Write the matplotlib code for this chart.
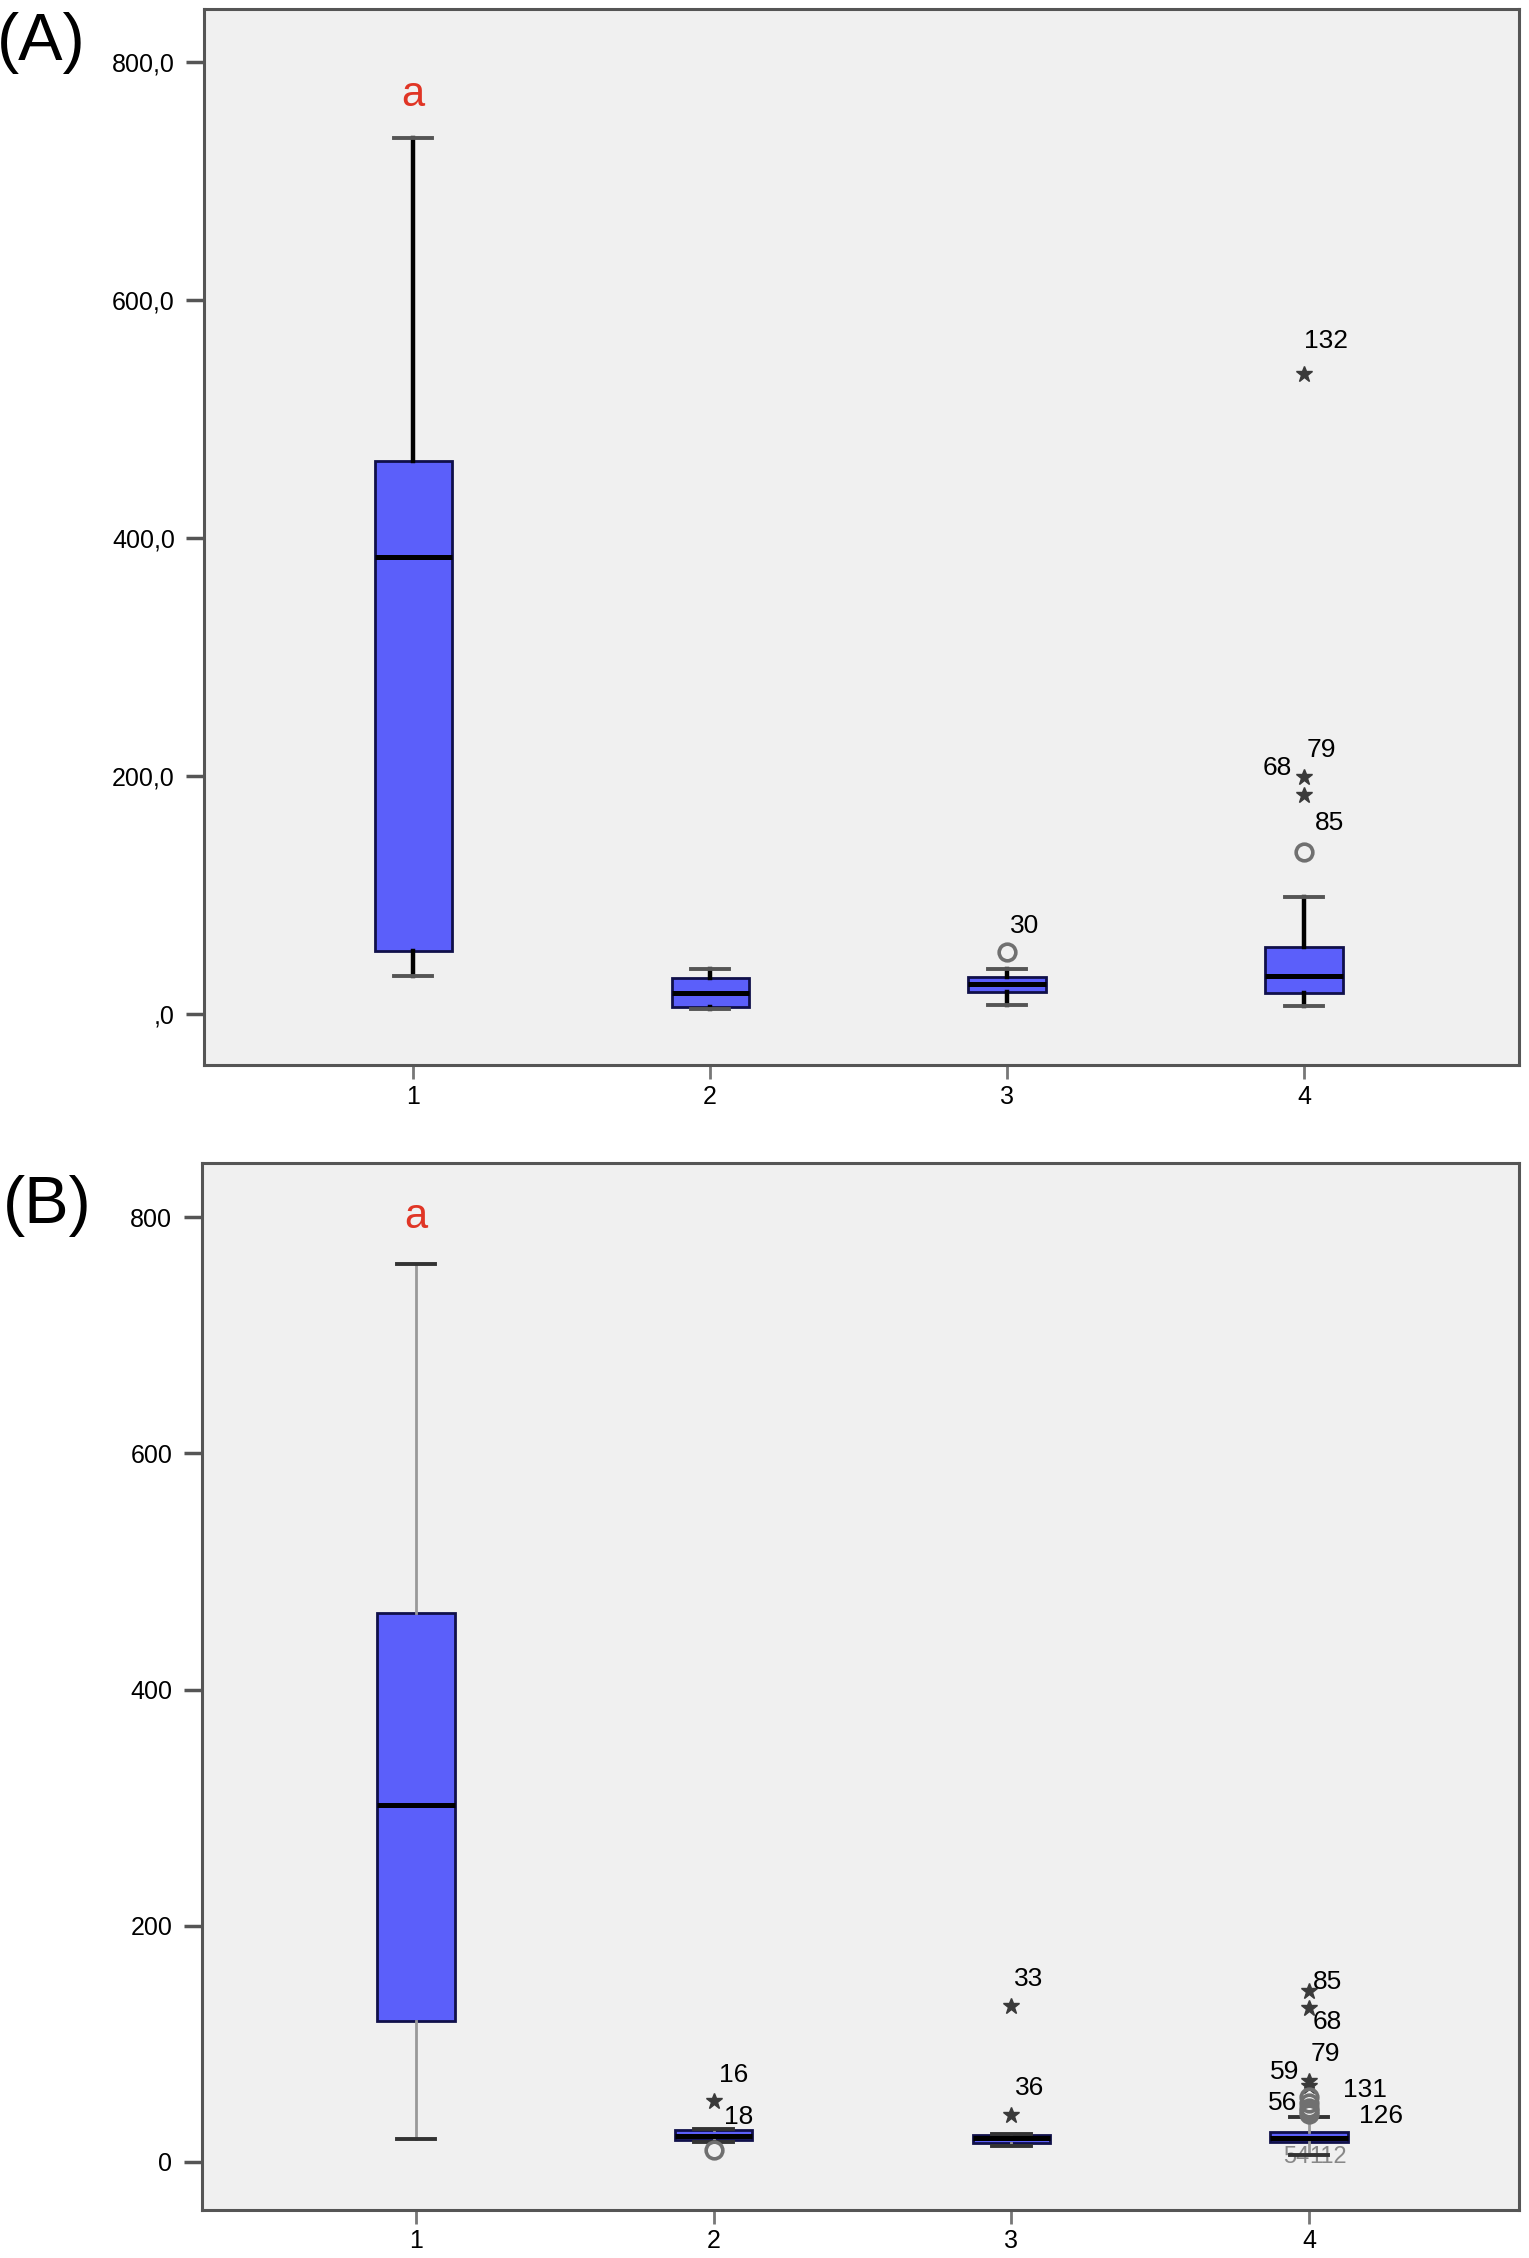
import numpy as np
import matplotlib.pyplot as plt

plt.rcParams['font.family'] = ['Liberation Sans', 'DejaVu Sans']

#%% data
groups = [1, 2, 3, 4]

# panel A
a_q1 = [53, 5.6, 18.4, 17.6]
a_med = [384, 17.3, 24.8, 31.6]
a_q3 = [465, 29.8, 31.0, 56.3]
a_lo = [32, 3.6, 7.3, 6.4]
a_hi = [736, 37.6, 37.6, 98.4]
a_out_grp = [3, 4, 4, 4, 4]
a_out_val = [52, 136, 199, 184, 538]
a_out_kind = ['o', 'o', '*', '*', '*']
a_out_lab = ['30', '85', '79', '68', '132']
a_yticks = [0, 200, 400, 600, 800]
a_ylabels = [',0', '200,0', '400,0', '600,0', '800,0']

# panel B
b_q1 = [119.5, 19, 16, 16.5]
b_med = [302, 22, 19.9, 20]
b_q3 = [464.6, 27, 23, 25]
b_lo = [19.5, 17, 13.5, 6]
b_hi = [760, 28, 24, 37.8]
b_out_grp = [2, 2, 3, 3, 4, 4, 4, 4, 4, 4, 4, 4, 4]
b_out_val = [51.4, 10.5, 40, 132, 144.6, 130.7, 68.8, 63.9, 55, 50.2, 46, 43, 40.5]
b_out_kind = ['*', 'o', '*', '*', '*', '*', '*', '*', 'o', 'o', 'o', 'o', 'o']
b_out_lab = ['16', '18', '36', '33', '85', '68', '79', '59', '131', '56', '126', '', '']
b_yticks = [0, 200, 400, 600, 800]
b_ylabels = ['0', '200', '400', '600', '800']

# label placement (pixels from marker) and alignment
a_off = [(3, 26, 'left'), (11, 29, 'left'), (3, 27, 'left'), (-12, 27, 'right'), (0, 33, 'left')]
b_off = [(5, 26, 'left'), (10, 33, 'left'), (4, 27, 'left'), (3, 27, 'left'),
         (4, 9, 'left'), (4, -14, 'left'), (2, 27, 'left'), (-10, 14, 'right'),
         (34, 7, 'left'), (-12, 0, 'right'), (50, -8, 'left'), (0, 0, 'left'), (0, 0, 'left')]

BG = '#f0f0f0'
BOX = '#5b5ffa'


def stats(q1, med, q3, lo, hi):
    return [dict(q1=q1[i], med=med[i], q3=q3[i], whislo=lo[i], whishi=hi[i], fliers=[])
            for i in range(len(q1))]


def panel(ax, st, wcol, wlw, ccol, out_g, out_v, out_k, out_l, offs):
    ax.set_facecolor(BG)
    ax.bxp(st, positions=groups, widths=0.26, patch_artist=True, showfliers=False,
           boxprops=dict(facecolor=BOX, edgecolor='#10104a', linewidth=2.0),
           medianprops=dict(color='black', linewidth=3.6, solid_capstyle='butt'),
           whiskerprops=dict(color=wcol, linewidth=wlw),
           capprops=dict(color=ccol, linewidth=2.8), capwidths=0.13)
    for g, v, k, lab, (dx, dy, ha) in zip(out_g, out_v, out_k, out_l, offs):
        if k == 'o':
            ax.plot(g, v, 'o', ms=12, mfc='none', mec='#707070', mew=2.6, zorder=4)
        else:
            ax.plot(g, v, '*', ms=12, color='#3a3a3a', mec='#3a3a3a', zorder=4)
        if lab:
            ax.annotate(lab, (g, v), xytext=(dx, dy), textcoords='offset pixels',
                        ha=ha, va='center', fontsize=19, zorder=5)
    for s in ax.spines.values():
        s.set_color('#555555')
        s.set_linewidth(2.2)
    ax.set_xticks(groups)
    ax.set_xticklabels([str(g) for g in groups])
    ax.tick_params(axis='x', length=10, width=2, color='#777777', pad=4, labelsize=18)
    ax.tick_params(axis='y', length=13, width=2.5, color='#555555', pad=8, labelsize=18)


fig = plt.figure(figsize=(15.29, 22.58), dpi=100)

#%% panel A
ax1 = fig.add_axes([0.1335, 0.5283, 0.860, 0.4679])
panel(ax1, stats(a_q1, a_med, a_q3, a_lo, a_hi), 'black', 3.2, '#555555',
      a_out_grp, a_out_val, a_out_kind, a_out_lab, a_off)
ax1.set_xlim(0.296, 4.724)
ax1.set_ylim(-43.2, 845)
ax1.set_yticks(a_yticks)
ax1.set_yticklabels(a_ylabels)
ax1.text(1, 772, 'a', color='#e03525', fontsize=30, ha='center', va='center')
fig.text(0.027, 0.981, '(A)', fontsize=48, ha='center', va='center')

#%% panel B
ax2 = fig.add_axes([0.1318, 0.0213, 0.8617, 0.4637])
panel(ax2, stats(b_q1, b_med, b_q3, b_lo, b_hi), '#999999', 2.0, '#333333',
      b_out_grp, b_out_val, b_out_kind, b_out_lab, b_off)
ax2.set_xlim(0.28, 4.706)
ax2.set_ylim(-40.6, 846)
ax2.set_yticks(b_yticks)
ax2.set_yticklabels(b_ylabels)
ax2.text(1, 800, 'a', color='#e03525', fontsize=30, ha='center', va='center')
ax2.text(4.0, 4, '54', color='#888888', fontsize=17, ha='right', va='center', zorder=1)
ax2.text(4.0, 4, '112', color='#888888', fontsize=17, ha='left', va='center', zorder=1)
fig.text(0.031, 0.466, '(B)', fontsize=48, ha='center', va='center')

fig.savefig('out.png', dpi=100, facecolor='white')
